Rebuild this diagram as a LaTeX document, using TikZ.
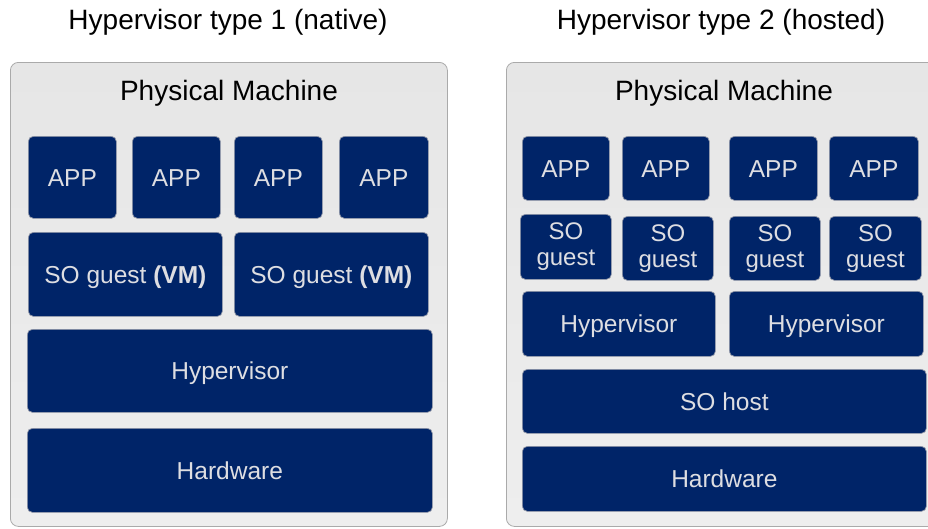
\documentclass[tikz,border=0pt]{standalone}
\usepackage{fontspec}
\setmainfont{Liberation Sans}
\definecolor{navy}{RGB}{0,36,104}
\definecolor{boxtext}{RGB}{222,222,226}
\definecolor{panelborder}{RGB}{170,170,170}
\begin{document}
\begin{tikzpicture}[x=1pt,y=-1pt,
  panel/.style={draw=panelborder, line width=0.8pt, rounded corners=8pt,
    top color={rgb,255:red,230;green,230;blue,230}, bottom color={rgb,255:red,238;green,238;blue,238},
    anchor=north west, inner sep=0pt},
  box/.style={draw={rgb,255:red,150;green,155;blue,170}, line width=0.7pt, fill=navy, rounded corners=5pt,
    text=boxtext, font=\fontsize{24.5}{26}\selectfont, anchor=north west, inner sep=0pt, align=center,
    text height=17.5pt, text depth=0pt},
  box2/.style={box, text height=, text depth=, font=\fontsize{24}{26}\selectfont},
  title/.style={font=\fontsize{28}{30}\selectfont, text=black},
]
\useasboundingbox (0,0) rectangle (928,528);
\fill[white] (0,0) rectangle (928,528);

% titles
\node[title] (t1) at (228,22) {Hypervisor type 1 (native)};
\node[title] (t2) at (721,22) {Hypervisor type 2 (hosted)};

% panels
\node[panel, minimum width=437pt, minimum height=464pt] (p1) at (10,62) {};
\node[panel, minimum width=440pt, minimum height=464pt] (p2) at (506,62) {};
\node[title] (pm1) at (229,93) {Physical Machine};
\node[title] (pm2) at (724,93) {Physical Machine};

% left panel
\node[box, minimum width=88pt, minimum height=82pt] (a1) at (28,136) {APP};
\node[box, minimum width=88pt, minimum height=82pt] (a2) at (132,136) {APP};
\node[box, minimum width=88pt, minimum height=82pt] (a3) at (234,136) {APP};
\node[box, minimum width=89pt, minimum height=82pt] (a4) at (339,136) {APP};
\node[box, minimum width=194pt, minimum height=84pt] (g1) at (28,232) {SO guest \textbf{(VM)}};
\node[box, minimum width=194pt, minimum height=84pt] (g2) at (234,232) {SO guest \textbf{(VM)}};
\node[box, minimum width=405pt, minimum height=83pt] (h1) at (27,329) {Hypervisor};
\node[box, minimum width=405pt, minimum height=84pt] (hw1) at (27,428) {Hardware};

% right panel
\node[box, minimum width=87pt, minimum height=64pt] (b1) at (522,136) {APP};
\node[box, minimum width=87pt, minimum height=64pt] (b2) at (622,136) {APP};
\node[box, minimum width=88pt, minimum height=64pt] (b3) at (729,136) {APP};
\node[box, minimum width=89pt, minimum height=64pt] (b4) at (829,136) {APP};
\node[box2, minimum width=91pt, minimum height=65pt] (s1) at (520,214) {SO\\guest};
\node[box2, minimum width=91pt, minimum height=64pt] (s2) at (622,216) {SO\\guest};
\node[box2, minimum width=91pt, minimum height=64pt] (s3) at (729,216) {SO\\guest};
\node[box2, minimum width=92pt, minimum height=64pt] (s4) at (829,216) {SO\\guest};
\node[box, minimum width=193pt, minimum height=65pt] (hy1) at (522,291) {Hypervisor};
\node[box, minimum width=194pt, minimum height=65pt] (hy2) at (729,291) {Hypervisor};
\node[box, minimum width=404pt, minimum height=64pt] (sh) at (522,369) {SO host};
\node[box, minimum width=404pt, minimum height=65pt] (hw2) at (522,446) {Hardware};
\end{tikzpicture}
\end{document}
